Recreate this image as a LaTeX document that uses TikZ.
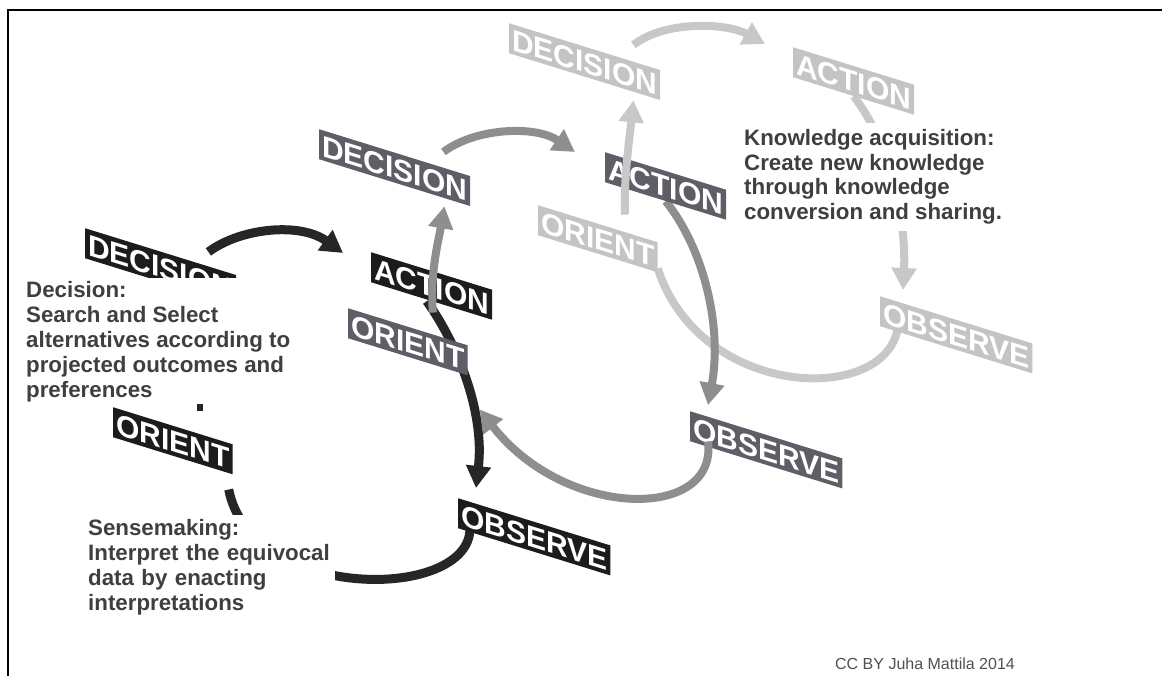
\documentclass[tikz,border=0pt]{standalone}
\usepackage{fontspec}
\setmainfont{Liberation Sans}
\usetikzlibrary{arrows.meta}

\definecolor{frontfill}{HTML}{1C1C1C}
\definecolor{frontline}{HTML}{262626}
\definecolor{midfill}{HTML}{5D5E66}
\definecolor{midline}{HTML}{8E8E8E}
\definecolor{backfill}{HTML}{C4C4C4}
\definecolor{backline}{HTML}{C8C8C8}
\definecolor{notetext}{HTML}{3F3F3F}
\definecolor{cctext}{HTML}{505050}

\pgfdeclarelayer{backarcs}
\pgfdeclarelayer{backnodes}
\pgfdeclarelayer{midarcs}
\pgfdeclarelayer{midnodes}
\pgfdeclarelayer{backtop}
\pgfdeclarelayer{frontarcs}
\pgfdeclarelayer{frontnodes}
\pgfdeclarelayer{midtop}
\pgfsetlayers{backarcs,backnodes,midarcs,midnodes,backtop,frontarcs,frontnodes,midtop,main}

\begin{document}
\begin{tikzpicture}[x=1pt,y=-1pt,
  banner/.style={anchor=north west,yslant=-0.31,text=white,inner xsep=3pt,inner ysep=4pt,
    font=\fontsize{30}{30}\selectfont\bfseries,text height=22pt,text depth=0pt},
  frontbox/.style={banner,fill=frontfill},
  midbox/.style={banner,fill=midfill},
  backbox/.style={banner,fill=backfill},
  cycle/.style={line width=8pt,-{Triangle[length=22pt,width=24pt]}},
  note/.style={anchor=north west,fill=white,align=left,text=notetext,inner sep=4pt,
    font=\fontsize{22.3}{25}\selectfont\bfseries}]

\useasboundingbox (0,0) rectangle (1162,676);

% back loop
\begin{pgfonlayer}{backnodes}
\node[backbox] (decB) at (509,23) {DECISION};
\node[backbox] (actB) at (793,47) {ACTION};
\node[backbox] (oriB) at (538,205) {ORIENT};
\node[backbox] (obsB) at (880,296) {OBSERVE};
\end{pgfonlayer}
\begin{pgfonlayer}{backarcs}
\draw[cycle,backline] ([xshift=-27pt,yshift=25pt]decB.north east) .. controls +(32,-25) and +(-38,-21) .. ([xshift=-28pt,yshift=3pt]actB.north west);
\draw[cycle,backline] (actB.south) .. controls +(42,55) and +(3,-60) .. ([xshift=23pt,yshift=6pt]obsB.north west);
\draw[backline,line width=8pt] ([xshift=18pt]obsB.south west) .. controls +(-10,79) and +(43,132) .. ([yshift=4pt]oriB.south east);
\end{pgfonlayer}
\begin{pgfonlayer}{backtop}
\draw[cycle,backline] ([xshift=27pt,yshift=9pt]oriB.north) .. controls +(-1,-40) and +(-4,40) .. ([xshift=-27pt]decB.south east);
\end{pgfonlayer}

% middle loop
\begin{pgfonlayer}{midnodes}
\node[midbox] (decM) at (319,129) {DECISION};
\node[midbox] (actM) at (605,152) {ACTION};
\node[midbox] (obsM) at (690,411) {OBSERVE};
\end{pgfonlayer}
\begin{pgfonlayer}{midtop}
\node[midbox] (oriM) at (348,308) {ORIENT};
\draw[cycle,midline] ([xshift=25pt,yshift=14pt]oriM.north) .. controls +(-3,-40) and +(-6,35) .. ([xshift=-26pt]decM.south east);
\draw[cycle,midline] ([xshift=18pt]obsM.south west) .. controls +(10,80) and +(85,110) .. ([xshift=12pt,yshift=-34pt]oriM.south east);
\end{pgfonlayer}
\begin{pgfonlayer}{midarcs}
\draw[cycle,midline] ([xshift=-27pt,yshift=24pt]decM.north east) .. controls +(32,-24) and +(-40,-27) .. ([xshift=-30pt]actM.north west);
\draw[cycle,midline] (actM.south) .. controls +(40,50) and +(14,-75) .. ([xshift=18pt,yshift=6pt]obsM.north west);
\end{pgfonlayer}

% front loop
\begin{pgfonlayer}{frontnodes}
\node[frontbox] (decF) at (85,228) {DECISION};
\node[frontbox] (actF) at (371,252) {ACTION};
\node[frontbox] (oriF) at (113,407) {ORIENT};
\node[frontbox] (obsF) at (458,498) {OBSERVE};
\end{pgfonlayer}
\begin{pgfonlayer}{frontarcs}
\draw[cycle,frontline,line width=9pt] ([xshift=-28pt,yshift=23pt]decF.north east) .. controls +(32,-24) and +(-43,-31) .. ([xshift=-28pt,yshift=-1pt]actF.north west);
\draw[cycle,frontline,line width=9pt] ([xshift=-5pt]actF.south) .. controls +(29,40) and +(9,-78) .. ([xshift=18pt,yshift=10pt]obsF.north west);
\draw[frontline,line width=9pt] ([xshift=12pt]obsF.south west) .. controls +(0,73) and +(22,113) .. ([xshift=-4pt,yshift=-15pt]oriF.south east);
\end{pgfonlayer}

% notes
\node[note] (decNote) at (22,277.5) {Decision:\\Search and Select\\alternatives according to\\projected outcomes and\\preferences};
\node[note,text width=243pt] (senseNote) at (84,515) {Sensemaking:\\Interpret the equivocal\\data by enacting\\interpretations};
\node[note,inner ysep=7pt,font=\fontsize{22.3}{24.5}\selectfont\bfseries] (knowNote) at (740,122.5) {Knowledge acquisition:\\Create new knowledge\\through knowledge\\conversion and sharing.};
\node[text=cctext,font=\fontsize{16}{16}\selectfont] (credit) at (925,664) {CC BY Juha Mattila 2014};
\fill[frontline] (197,404) rectangle (203,411);

\draw[line width=2.5pt] (8,676) -- (8,10) -- (1162,10);
\end{tikzpicture}
\end{document}
